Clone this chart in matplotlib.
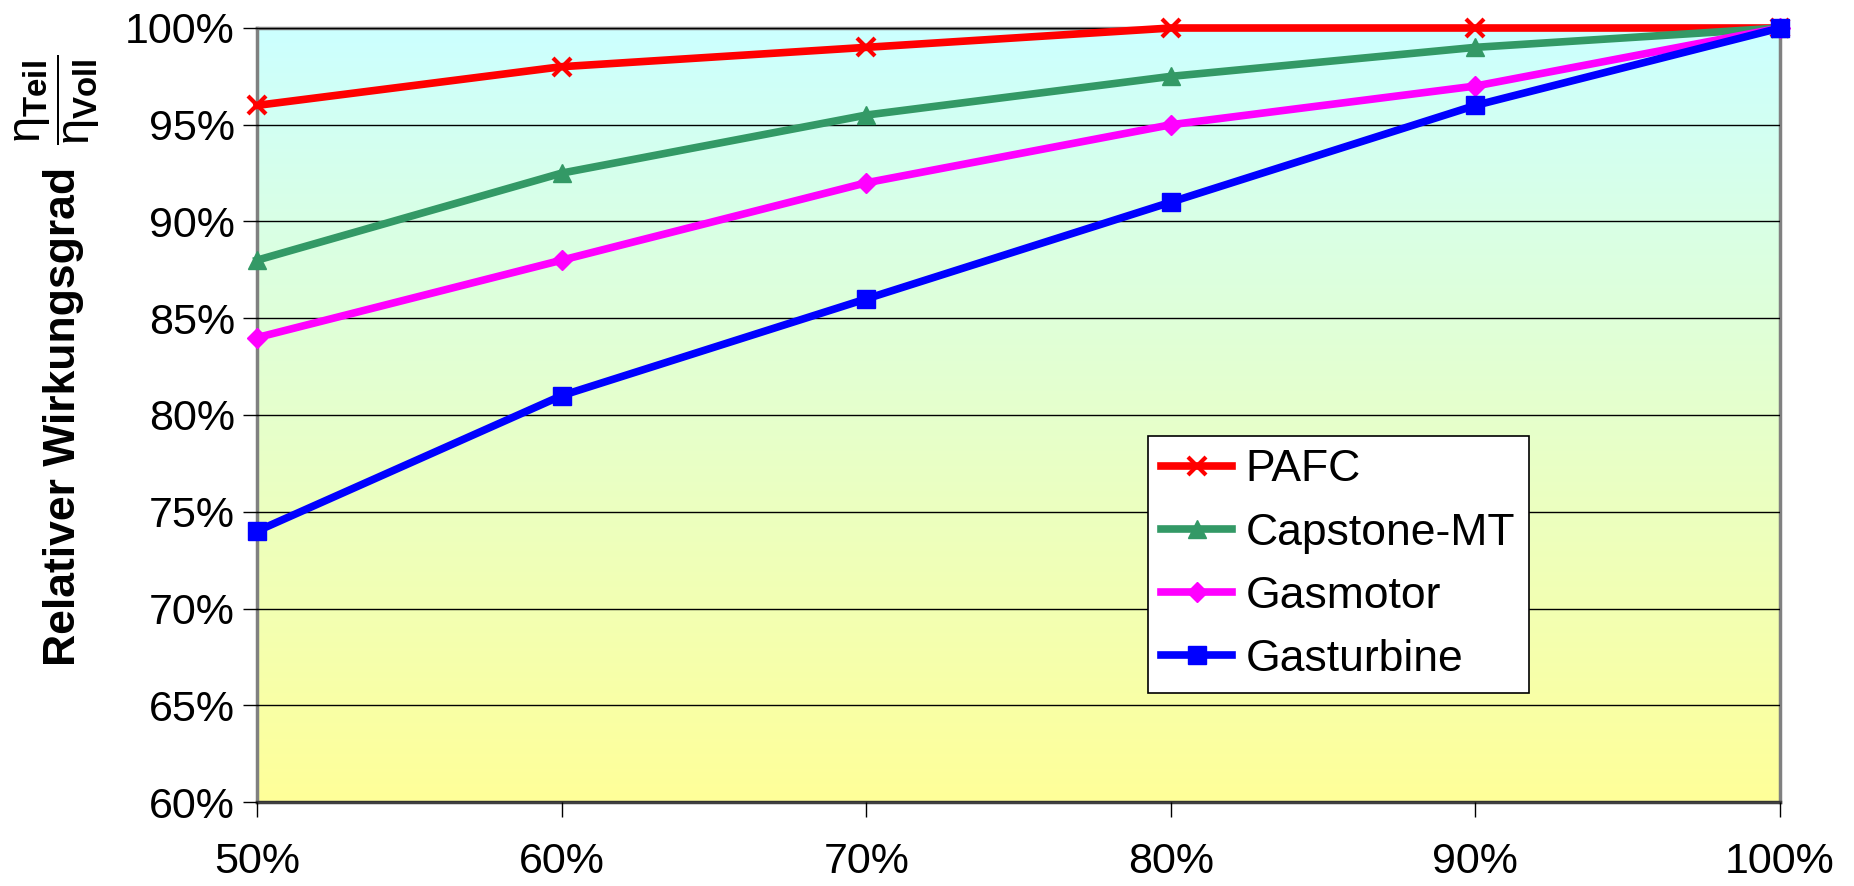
import matplotlib
matplotlib.use("Agg")
import matplotlib.pyplot as plt
import numpy as np
from matplotlib.colors import LinearSegmentedColormap

plt.rcParams['font.family'] = ['Liberation Sans', 'DejaVu Sans']
plt.rcParams['mathtext.fontset'] = 'custom'
plt.rcParams['mathtext.rm'] = 'Liberation Sans'
plt.rcParams['mathtext.it'] = 'Liberation Sans'
plt.rcParams['mathtext.bf'] = 'Liberation Sans:bold'

load = [50, 60, 70, 80, 90, 100]
series_names = ["PAFC", "Capstone-MT", "Gasmotor", "Gasturbine"]
pafc = [96, 98, 99, 100, 100, 100]
capstone = [88, 92.5, 95.5, 97.5, 99, 100]
gasmotor = [84, 88, 92, 95, 97, 100]
gasturbine = [74, 81, 86, 91, 96, 100]
yticks = [60, 65, 70, 75, 80, 85, 90, 95, 100]

fig = plt.figure(figsize=(18.54, 8.86), dpi=100)
ax = fig.add_axes([257/1854, 1 - 802/886, (1780-257)/1854, (802-28)/886])

# gradient background
cmap = LinearSegmentedColormap.from_list("bg", ["#FFFF99", "#CCFFFF"])
grad = np.linspace(0, 1, 256).reshape(-1, 1)
ax.imshow(grad, aspect='auto', cmap=cmap, origin='lower',
          extent=[50, 100, 60, 100], zorder=0)

ax.set_xlim(50, 100)
ax.set_ylim(60, 100)
ax.set_yticks(yticks)
ax.set_yticklabels([f"{v}%" for v in yticks])
ax.set_xticks(load)
ax.set_xticklabels([f"{v}%" for v in load])
ax.grid(axis='y', color='black', lw=1.0, zorder=1)
ax.set_axisbelow(False)

styles = [
    (pafc, '#FF0000', 'x', 13, 3),
    (capstone, '#339966', '^', 13, 1),
    (gasmotor, '#FF00FF', 'D', 10, 1),
    (gasturbine, '#0000FF', 's', 13, 1),
]
for (vals, col, mk, ms, mew), name in zip(styles, series_names):
    ax.plot(load, vals, color=col, lw=5.5, marker=mk, ms=ms, mew=mew,
            mec=col, mfc=col, label=name, clip_on=False, zorder=3)

for s in ax.spines.values():
    s.set_color('#808080')
    s.set_linewidth(2.5)
ax.spines['bottom'].set_color('#404040')

ax.tick_params(axis='y', direction='out', length=10, width=1, labelsize=31, pad=6)
ax.tick_params(axis='x', direction='out', length=11, width=1, labelsize=31, pad=18)

leg = ax.legend(loc='upper left', bbox_to_anchor=((1148-257)/1523, 1 - (436-28)/774),
                fontsize=32, frameon=True, fancybox=False, framealpha=1,
                edgecolor='black', borderpad=0.3, labelspacing=0.5,
                handlelength=1.6, handletextpad=0.3, borderaxespad=0)
leg.get_frame().set_linewidth(1.2)

fig.text(64/1854, 1 - 416/886, "Relativer Wirkungsgrad", rotation=90,
         fontsize=32, fontweight='bold', ha='center', va='center')
fig.text(58/1854, 1 - 100/886, r'$\dfrac{\eta_{\mathbf{Teil}}}{\eta_{\mathbf{Voll}}}$',
         rotation=90, fontsize=34, ha='center', va='center')

fig.savefig("out.png", dpi=100)
